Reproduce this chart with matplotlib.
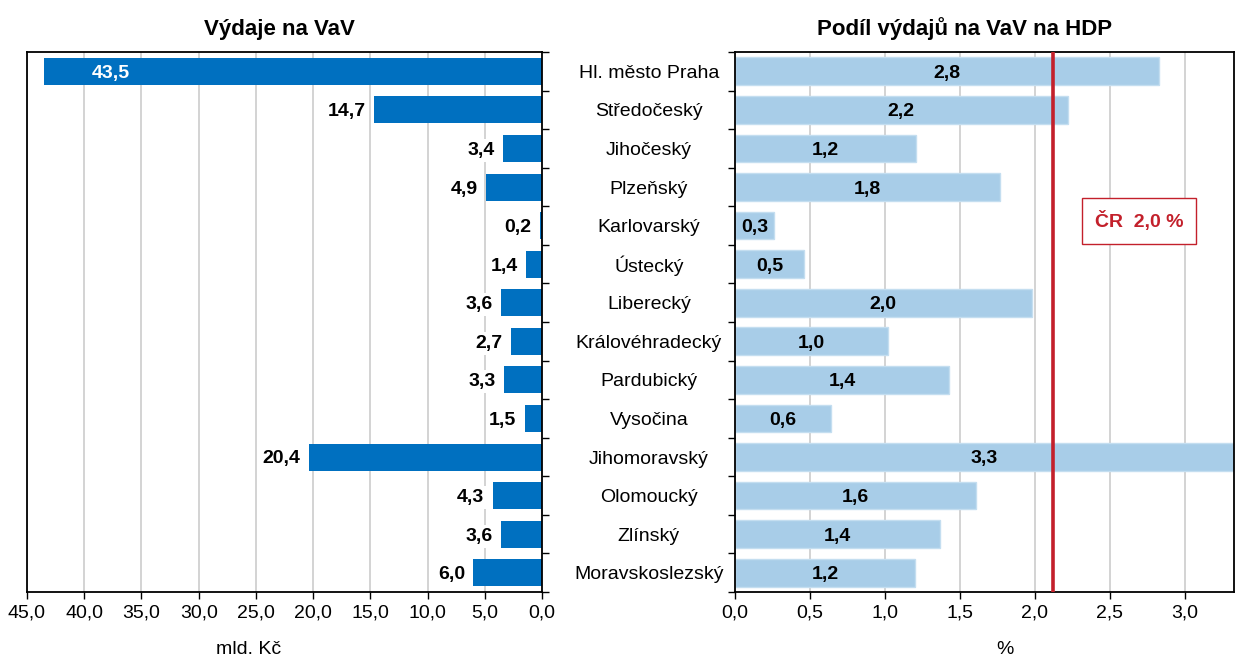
import matplotlib.pyplot as plt
import numpy as np

plt.rcParams['font.family'] = ['Liberation Sans', 'DejaVu Sans']

# data
kraje = ["Hl. město Praha", "Středočeský", "Jihočeský", "Plzeňský", "Karlovarský",
         "Ústecký", "Liberecký", "Královéhradecký", "Pardubický", "Vysočina",
         "Jihomoravský", "Olomoucký", "Zlínský", "Moravskoslezský"]
vydaje = [43.5, 14.7, 3.4, 4.9, 0.2, 1.4, 3.6, 2.7, 3.3, 1.5, 20.4, 4.3, 3.6, 6.0]
podil = [2.83, 2.22, 1.21, 1.77, 0.26, 0.46, 1.98, 1.02, 1.43, 0.64, 3.34, 1.61, 1.37, 1.20]
podil_txt = ["2,8", "2,2", "1,2", "1,8", "0,3", "0,5", "2,0", "1,0", "1,4", "0,6", "3,3", "1,6", "1,4", "1,2"]
cr_linie = 2.12
cr_text = "ČR  2,0 %"

modra = "#0070c0"
sv_modra = "#a8cde8"
cervena = "#c3202b"

fig = plt.figure(figsize=(12.36, 6.56), dpi=100)
W, H = 1236, 656
ax1 = fig.add_axes([27 / W, 1 - 592 / H, 515 / W, 540 / H])
ax2 = fig.add_axes([735 / W, 1 - 592 / H, 499 / W, 540 / H])

y = np.arange(len(kraje))

#levý graf - výdaje
ax1.barh(y, vydaje, height=0.7, color=modra, zorder=2)
ax1.set_xlim(45, 0)
ax1.set_ylim(len(kraje) - 0.5, -0.5)
ax1.set_xticks(np.arange(0, 46, 5))
ax1.set_xticklabels([("%.1f" % t).replace(".", ",") for t in np.arange(0, 46, 5)])
ax1.xaxis.grid(True, color="#d0d0d0", lw=1.3)
ax1.set_axisbelow(True)
ax1.yaxis.tick_right()
ax1.set_yticks([])
ax1.set_yticks(np.arange(-0.5, len(kraje)), minor=True)
ax1.tick_params(axis="y", which="minor", direction="out", length=5, width=1, right=True, left=False)
ax1.tick_params(axis="x", direction="out", length=5, width=1, labelsize=14, pad=4)
ax1.set_title("Výdaje na VaV", fontsize=16, fontweight="bold", pad=12, x=0.49)
ax1.set_xlabel("mld. Kč", fontsize=14)
ax1.xaxis.set_label_coords(0.43, -0.09)

for i, v in enumerate(vydaje):
    txt = ("%.1f" % v).replace(".", ",")
    if v > 40:
        ax1.annotate(txt, xy=(v, i), xytext=(34, 0), textcoords="offset points",
                     ha="left", va="center_baseline", color="white", fontsize=14,
                     fontweight="bold", zorder=3)
    else:
        ax1.annotate(txt, xy=(v, i), xytext=(-6, 0), textcoords="offset points",
                     ha="right", va="center_baseline", color="black", fontsize=14, fontweight="bold",
                     bbox=dict(boxstyle="square,pad=0.15", fc="white", ec="none"), zorder=3)

#pravý graf - podíl na HDP
ax2.barh(y, podil, height=0.72, color=sv_modra, edgecolor="#c4def0", lw=1, zorder=2)
ax2.set_xlim(0, 3.33)
ax2.set_ylim(len(kraje) - 0.5, -0.5)
ax2.set_xticks(np.arange(0, 3.01, 0.5))
ax2.set_xticklabels([("%.1f" % t).replace(".", ",") for t in np.arange(0, 3.01, 0.5)])
ax2.xaxis.grid(True, color="#d0d0d0", lw=1.3)
ax2.set_axisbelow(True)
ax2.set_yticks(y)
ax2.set_yticklabels(kraje, ha="center", fontsize=14)
ax2.tick_params(axis="y", which="major", length=0, pad=62)
ax2.set_yticks(np.arange(-0.5, len(kraje)), minor=True)
ax2.tick_params(axis="y", which="minor", direction="out", length=5, width=1)
ax2.tick_params(axis="x", direction="out", length=5, width=1, labelsize=14, pad=4)
ax2.set_title("Podíl výdajů na VaV na HDP", fontsize=16, fontweight="bold", pad=12, x=0.46)
ax2.set_xlabel("%", fontsize=14)
ax2.xaxis.set_label_coords(0.54, -0.09)

for i, v in enumerate(podil):
    ax2.text(min(v, 3.33) / 2, i, podil_txt[i], ha="center", va="center_baseline",
             fontsize=14, fontweight="bold", zorder=3)

ax2.axvline(cr_linie, color=cervena, lw=2.6, zorder=4)
ax2.text(0.81, 0.687, cr_text, transform=ax2.transAxes, ha="center", va="center",
         color=cervena, fontsize=14, fontweight="bold", zorder=5,
         bbox=dict(boxstyle="square,pad=0.65", fc="white", ec=cervena, lw=1))

for ax in (ax1, ax2):
    for s in ax.spines.values():
        s.set_linewidth(1.3)
        s.set_color("black")

plt.savefig("out.png", dpi=100)
